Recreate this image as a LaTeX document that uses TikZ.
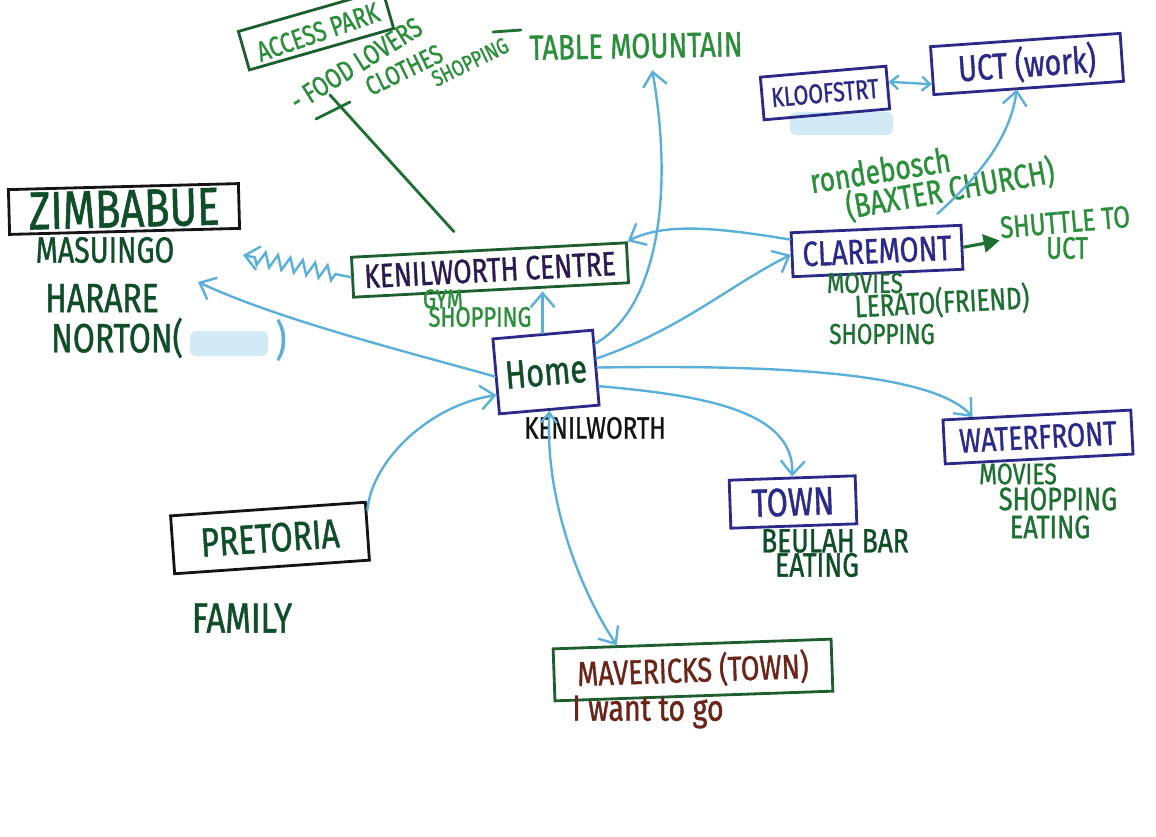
\documentclass[tikz,border=0pt]{standalone}
\usepackage{fontspec}
\newfontfamily\hand[FakeStretch=0.78,FakeBold=1]{Fira Sans}
\usepackage{tikz}
\usetikzlibrary{arrows.meta, positioning, decorations.pathmorphing}

\definecolor{navy}{HTML}{2C2A88}
\definecolor{penblack}{HTML}{141414}
\definecolor{brightgreen}{HTML}{2A8E3A}
\definecolor{midgreen}{HTML}{1E7032}
\definecolor{darkgreen}{HTML}{0F4E28}
\definecolor{boxgreen}{HTML}{1C5E2E}
\definecolor{penbrown}{HTML}{6A2418}
\definecolor{penpurple}{HTML}{2A1A4E}
\definecolor{skyblue}{HTML}{5AB0D8}
\definecolor{blurblue}{HTML}{D2EAF6}

\begin{document}
\begin{tikzpicture}[
  x=0.025cm, y=-0.025cm,
  box/.style={rectangle, draw, line width=2pt, inner sep=0pt},
  txt/.style={font=\hand\fontsize{#1}{#1}\selectfont, inner sep=1pt},
  arrow/.style={-{Straight Barb[length=3.5mm, width=6mm]}, line width=1.7pt, draw=skyblue, line cap=round},
  garrow/.style={-{Triangle[length=4mm, width=4.5mm]}, line width=2.2pt, draw=midgreen},
  gline/.style={line width=2pt, draw=midgreen, line cap=round}
]

\useasboundingbox (0,0) rectangle (1156,836);
\fill[white] (0,0) rectangle (1156,836);
\clip (0,0) rectangle (1156,836);

% Blurred patches
\fill[blurblue, rounded corners=4pt] (790,112) rectangle (893,135);
\fill[blurblue, rounded corners=4pt] (190,331) rectangle (268,356);

% Top left notes
\node[box, draw=boxgreen, minimum width=3.75cm, minimum height=1.0cm, rotate=16] (access) at (316,30) {};
\node[txt=20pt, text=brightgreen, rotate=19] (accesstxt) at (318,32) {ACCESS PARK};
\node[txt=20pt, text=brightgreen, rotate=32] (food) at (356,64) {- FOOD LOVERS};
\node[txt=19pt, text=brightgreen, rotate=26] (clothes) at (404,70) {CLOTHES};
\node[txt=16pt, text=brightgreen, rotate=26] (shopnote) at (470,62) {SHOPPING};
\coordinate (cross) at (330,95);
\coordinate (crossL) at (316,119);
\coordinate (crossR) at (350,102);

\node[txt=25pt, text=brightgreen, rotate=1] (tm) at (636,46) {TABLE MOUNTAIN};
\coordinate (dashL) at (493,32);
\coordinate (dashR) at (521,30);

% Top right
\node[box, draw=navy, text=navy, txt=19.5pt, minimum width=3.15cm, minimum height=1.07cm, rotate=5] (kloof) at (825,93) {KLOOFSTRT};
\node[box, draw=navy, text=navy, txt=26pt, minimum width=4.75cm, minimum height=1.2cm, rotate=4] (uct) at (1027,64) {UCT (work)};
\node[txt=24pt, text=brightgreen, rotate=9] (ronde) at (880,170) {rondebosch};
\node[txt=24pt, text=brightgreen, rotate=10] (baxter) at (950,189) {(BAXTER CHURCH)};

\node[box, draw=navy, text=navy, txt=25pt, minimum width=4.25cm, minimum height=1.1cm, rotate=2.5] (clare) at (877,251) {CLAREMONT};
\node[txt=22pt, text=brightgreen, rotate=5] (shuttle) at (1065,222) {SHUTTLE TO};
\node[txt=22pt, text=brightgreen] (shuttleuct) at (1067,248) {UCT};
\node[txt=20.5pt, text=midgreen] (cmovies) at (865,283) {MOVIES};
\node[txt=22pt, text=midgreen, rotate=3] (lerato) at (942,302) {LERATO(FRIEND)};
\node[txt=20.5pt, text=midgreen] (cshop) at (882,334) {SHOPPING};

% Zimbabwe
\node[box, draw=penblack, text=darkgreen, txt=38pt, minimum width=5.75cm, minimum height=1.12cm, rotate=1.5] (zim) at (124,209) {ZIMBABUE};
\node[txt=26pt, text=darkgreen] (masu) at (105,250) {MASUINGO};
\node[txt=29pt, text=darkgreen] (harare) at (102,298) {HARARE};
\node[txt=29pt, text=darkgreen] (norton) at (117,338) {NORTON(};
\node[txt=30pt, text=skyblue] (nortonend) at (281,340) {)};
\coordinate (zimtip) at (198,282);
\coordinate (zigtip) at (243,255);

% Kenilworth centre
\node[box, draw=boxgreen, text=penpurple, txt=24pt, minimum width=6.88cm, minimum height=1.0cm, rotate=3] (kc) at (490,270) {KENILWORTH CENTRE};
\node[txt=19pt, text=brightgreen] (gym) at (443,299) {GYM};
\node[txt=20pt, text=brightgreen] (kcshop) at (480,317) {SHOPPING};

% Home
\node[box, draw=navy, text=darkgreen, txt=28pt, minimum width=2.5cm, minimum height=1.88cm, rotate=5] (home) at (546,372) {Home};
\node[txt=22pt, text=penblack] (kenil) at (595,428) {KENILWORTH};

% Waterfront and town
\node[box, draw=navy, text=navy, txt=24pt, minimum width=4.7cm, minimum height=1.1cm, rotate=3] (wf) at (1038,437) {WATERFRONT};
\node[txt=21pt, text=midgreen] (wmovies) at (1018,474) {MOVIES};
\node[txt=23pt, text=midgreen] (wshop) at (1058,499) {SHOPPING};
\node[txt=23pt, text=midgreen] (weat) at (1050,527) {EATING};

\node[box, draw=navy, text=navy, txt=28pt, minimum width=3.15cm, minimum height=1.2cm, rotate=2] (town) at (793,502) {TOWN};
\node[txt=24pt, text=darkgreen] (beulah) at (835,541) {BEULAH BAR};
\node[txt=24pt, text=darkgreen] (teat) at (817,565) {EATING};

% Pretoria
\node[box, draw=penblack, text=darkgreen, txt=29pt, minimum width=4.88cm, minimum height=1.45cm, rotate=4] (pret) at (270,538) {PRETORIA};
\node[txt=30pt, text=darkgreen] (family) at (242,618) {FAMILY};

% Mavericks
\node[box, draw=boxgreen, text=penbrown, txt=24.5pt, minimum width=6.95cm, minimum height=1.3cm, rotate=2] (mav) at (693,670) {MAVERICKS (TOWN)};
\node[txt=26pt, text=penbrown] (wantgo) at (648,712) {I want to go};

% Green pen lines
\draw[gline] ([shift={(-35,-17)}]kc.north) -- (cross);
\draw[gline] (crossL) -- (crossR);
\draw[gline] (dashL) -- (dashR);
\draw[garrow] (clare.east) -- (shuttle.south west);

% Blue arrows from home
\draw[arrow] (home.north) -- (home.north |- kc.south);
\draw[arrow] (home.25) .. controls (655,310) and (675,200) .. ([shift={(16,10)}]tm.south);
\draw[arrow] (home.10) .. controls (680,330) and (730,285) .. (clare.west);
\draw[arrow] (home.east) .. controls (760,365) and (930,370) .. (wf.160);
\draw[arrow] (home.-20) .. controls (700,395) and (795,410) .. (town.north);
\draw[arrow, {Straight Barb[length=2.5mm, width=4mm]}-{Straight Barb[length=3.5mm, width=6mm]}] (home.south) .. controls (545,500) and (580,590) .. (mav.160);
\draw[arrow] (home.west) .. controls (400,350) and (280,320) .. (zimtip);
\draw[arrow] (pret.12) .. controls (372,460) and (430,405) .. (home.-160);

% Other blue arrows
\draw[arrow] (clare.170) .. controls (720,228) and (665,222) .. (kc.north east);
\draw[arrow, {Straight Barb[length=2mm, width=3.5mm]}-{Straight Barb[length=2mm, width=3.5mm]}] (kloof.5) -- (uct.-172);
\draw[arrow] ([shift={(-25,-10)}]clare.north east) .. controls (975,180) and (1010,140) .. ([xshift=-0.3cm]uct.south);
\draw[arrow, decorate, decoration={zigzag, amplitude=5pt, segment length=9pt, pre length=0.4cm, post length=0.3cm}] (kc.west) -- (zigtip);

\end{tikzpicture}
\end{document}
